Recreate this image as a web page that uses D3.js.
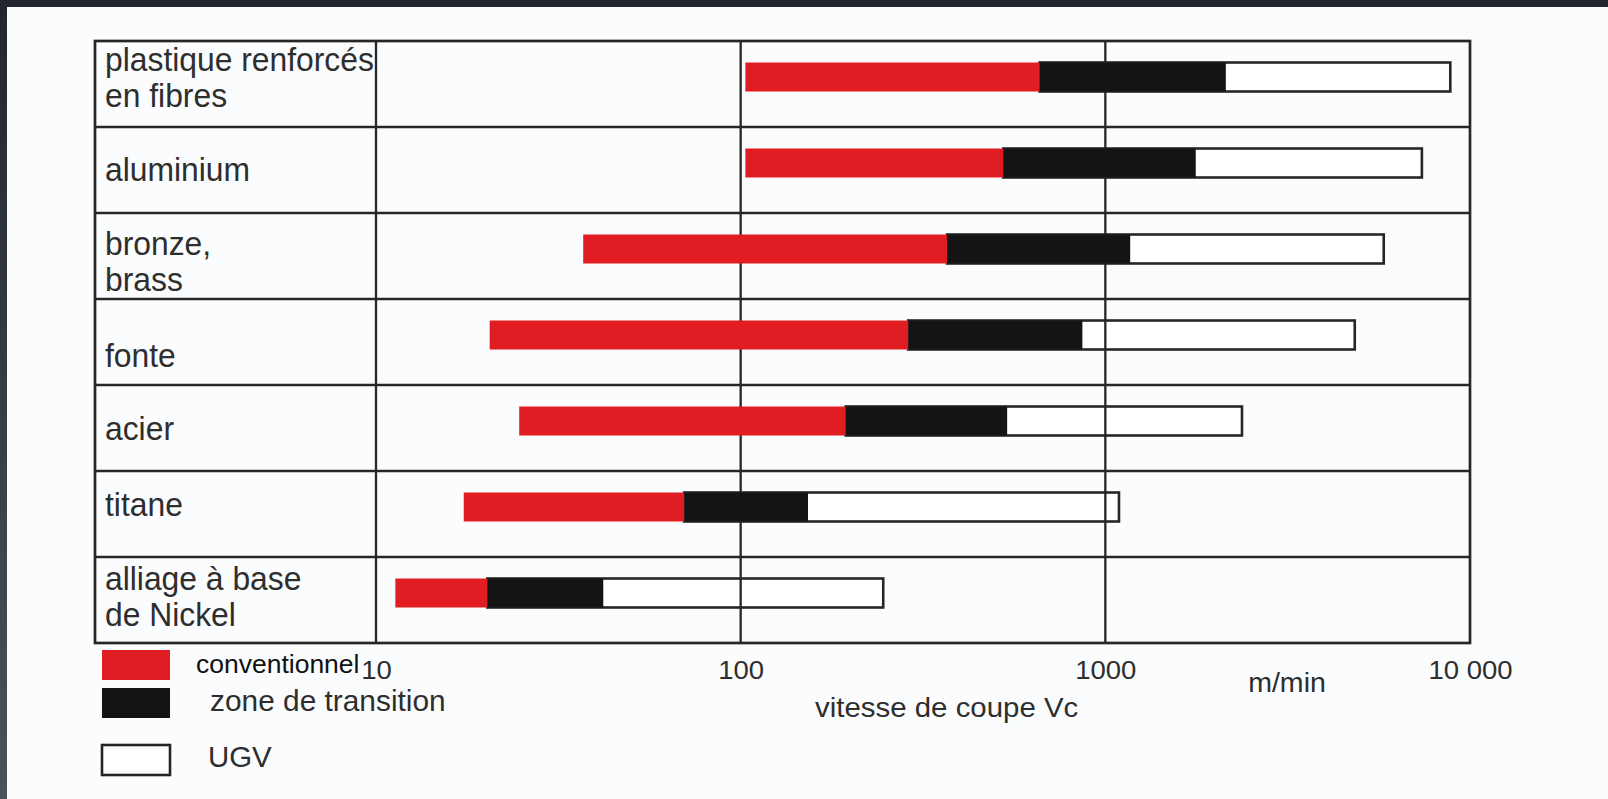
<!DOCTYPE html>
<html>
<head>
<meta charset="utf-8">
<script src="https://cdn.jsdelivr.net/npm/d3@7"></script>
<style>
  html, body { margin: 0; padding: 0; background: #fbfcfd; }
  svg { display: block; }
  text { font-family: "Liberation Sans", Arial, Helvetica, sans-serif; }
</style>
</head>
<body>
<svg id="chart" width="1608" height="799"></svg>
<script>
// Materials (row labels, one entry per text line)
const materials = [
  ["plastique renforcés", "en fibres"],
  ["aluminium"],
  ["bronze,", "brass"],
  ["fonte"],
  ["acier"],
  ["titane"],
  ["alliage à base", "de Nickel"]
];

// Cutting speed ranges, m/min
const conventionnelMin = [103, 103, 37, 20.5, 24.7, 17.4, 11.3];
const transitionMin    = [660, 525, 368, 288, 194, 70, 20.2];
const ugvMin           = [2140, 1770, 1170, 865, 538, 153, 42];
const ugvMax           = [8830, 7380, 5800, 4830, 2370, 1090, 246];

// Axis ticks
const tickValues = [10, 100, 1000, 10000];
const tickLabels = ["10", "100", "1000", "10 000"];

// Legend entries
const legendLabels = ["conventionnel", "zone de transition", "UGV"];

// ---- layout ----
const W = 1608, H = 799;
const tableLeft = 95, tableTop = 41, tableBottom = 643;
const plotLeft = 376, plotRight = 1470;
const labelFirstBaseline = [30, 54, 42, 68, 55, 45, 33];
const lineGap = 36;

const RED = "#e11d24", BLACK = "#141414", LINE = "#262626", INK = "#2e2e2e";

const svg = d3.select("#chart");

// page frame
const defs = svg.append("defs");
const grad = defs.append("linearGradient").attr("id", "edge").attr("x1", 0).attr("y1", 0).attr("x2", 0).attr("y2", 1);
grad.append("stop").attr("offset", "0%").attr("stop-color", "#22272e");
grad.append("stop").attr("offset", "100%").attr("stop-color", "#4b525a");
svg.append("rect").attr("x", 0).attr("y", 0).attr("width", W).attr("height", H).attr("fill", "#fbfcfd");
svg.append("rect").attr("x", 0).attr("y", 0).attr("width", 7).attr("height", H).attr("fill", "url(#edge)");
svg.append("rect").attr("x", 0).attr("y", 0).attr("width", W).attr("height", 7).attr("fill", "#22272e");

const x = d3.scaleLog().domain([10, 10000]).range([plotLeft, plotRight]);
const y = d3.scaleBand().domain(d3.range(materials.length)).range([tableTop, tableBottom]).paddingInner(0);

const rowH = y.bandwidth();
const barH = 29;
const barDy = rowH / 2 - 7 - barH / 2;

// text with a horizontal scale factor
function label(g, tx, ty, size, sx, str, opts = {}) {
  return g.append("text")
    .attr("transform", `translate(${tx},${ty}) scale(${sx},1)`)
    .attr("font-size", size)
    .attr("fill", opts.fill || INK)
    .attr("text-anchor", opts.anchor || "start")
    .text(str);
}

// UGV outline boxes
const bars = svg.append("g");
bars.selectAll("rect.ugv").data(d3.range(materials.length)).join("rect")
  .attr("class", "ugv")
  .attr("x", i => x(transitionMin[i]))
  .attr("y", i => y(i) + barDy)
  .attr("width", i => x(ugvMax[i]) - x(transitionMin[i]))
  .attr("height", barH)
  .attr("fill", "#ffffff")
  .attr("stroke", LINE)
  .attr("stroke-width", 2.6);

// grid and table lines
const grid = svg.append("g");
grid.selectAll("line.v").data(tickValues.slice(0, 3)).join("line")
  .attr("x1", d => x(d)).attr("x2", d => x(d))
  .attr("y1", tableTop).attr("y2", tableBottom)
  .attr("stroke", LINE).attr("stroke-width", 2.3);
grid.selectAll("line.h").data(d3.range(1, materials.length)).join("line")
  .attr("x1", tableLeft).attr("x2", plotRight)
  .attr("y1", i => y(i)).attr("y2", i => y(i))
  .attr("stroke", LINE).attr("stroke-width", 2.7);
grid.append("rect")
  .attr("x", tableLeft).attr("y", tableTop)
  .attr("width", plotRight - tableLeft).attr("height", tableBottom - tableTop)
  .attr("fill", "none").attr("stroke", LINE).attr("stroke-width", 2.7);

// transition and conventional bars
const bars2 = svg.append("g");
bars2.selectAll("rect.trans").data(d3.range(materials.length)).join("rect")
  .attr("x", i => x(transitionMin[i]))
  .attr("y", i => y(i) + barDy)
  .attr("width", i => x(ugvMin[i]) - x(transitionMin[i]))
  .attr("height", barH)
  .attr("fill", BLACK);
bars2.selectAll("rect.conv").data(d3.range(materials.length)).join("rect")
  .attr("x", i => x(conventionnelMin[i]))
  .attr("y", i => y(i) + barDy)
  .attr("width", i => x(transitionMin[i]) - x(conventionnelMin[i]))
  .attr("height", barH)
  .attr("fill", RED);

// row labels
const labels = svg.append("g");
materials.forEach((lines, i) => {
  lines.forEach((t, j) => {
    label(labels, tableLeft + 10, y(i) + labelFirstBaseline[i] + j * lineGap, 33, 0.965, t);
  });
});

// bottom axis
const axis = d3.axisBottom(x)
  .tickValues(tickValues)
  .tickFormat((d, i) => tickLabels[i])
  .tickSize(0);
const gAxis = svg.append("g").attr("transform", `translate(0,${tableBottom})`).call(axis);
gAxis.select(".domain").remove();
gAxis.selectAll("text")
  .attr("y", 36).attr("dy", 0)
  .attr("font-size", 25)
  .attr("fill", INK)
  .attr("font-family", "Liberation Sans, Arial, sans-serif")
  .attr("transform", "scale(1.1,1)");

label(svg, 1287, 692, 28, 1.02, "m/min", { anchor: "middle" });
label(svg, 815, 717, 27, 1.09, "vitesse de coupe Vc");

// legend
const legend = svg.append("g");
const swatchX = 102, swatchW = 68, swatchH = 30;
const swatchY = [650, 688, 745];
const legendFill = [RED, BLACK, "#ffffff"];
legend.selectAll("rect").data(legendLabels).join("rect")
  .attr("x", swatchX).attr("y", (d, i) => swatchY[i])
  .attr("width", swatchW).attr("height", swatchH)
  .attr("fill", (d, i) => legendFill[i])
  .attr("stroke", (d, i) => i === 2 ? LINE : "none")
  .attr("stroke-width", 2.6);
const legendTextX = [196, 210, 208];
const legendBaseline = [673, 711, 767];
const legendSize = [25, 29, 30];
const legendStretch = [1.06, 1.03, 0.98];
legendLabels.forEach((t, i) => {
  label(legend, legendTextX[i], legendBaseline[i], legendSize[i], legendStretch[i], t,
        { fill: i === 0 ? "#111" : INK });
});
</script>
</body>
</html>
